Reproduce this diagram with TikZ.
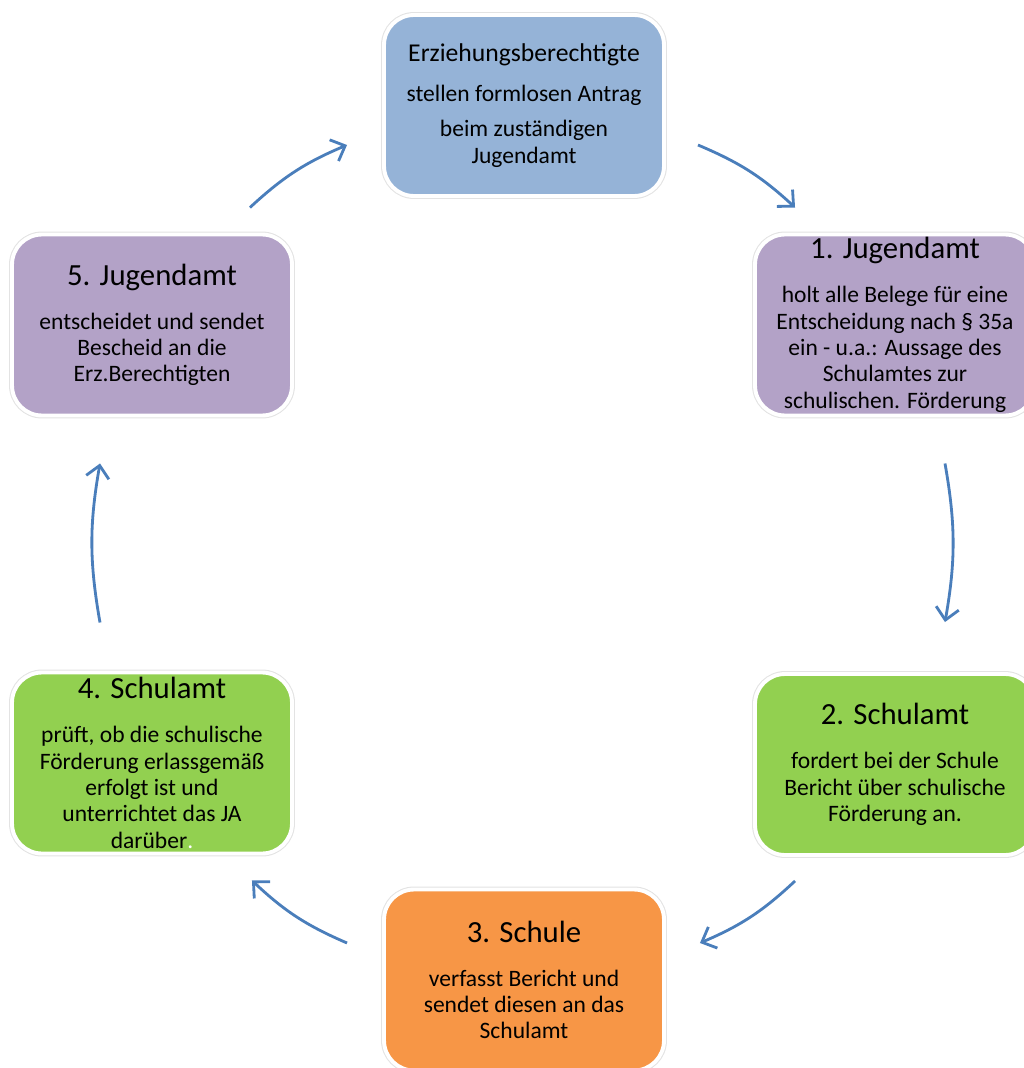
\documentclass[tikz,border=0pt]{standalone}
\usepackage{fontspec}
\setmainfont{Carlito}
\usepackage{xcolor}
\usetikzlibrary{arrows.meta, positioning}
\definecolor{antragblue}{HTML}{95B3D7}
\definecolor{jugendlila}{HTML}{B3A2C7}
\definecolor{schulgruen}{HTML}{92D050}
\definecolor{schulorange}{HTML}{F79646}
\definecolor{flowblue}{HTML}{4A7EBB}
\newcommand{\headfont}{\fontsize{17.5}{20}\selectfont}
\tikzset{
    stage/.style={
        rectangle, 
        rounded corners=0.6cm, 
        draw=white, 
        line width=2.2pt, 
        preaction={draw=black!11, line width=3.4pt},
        minimum width=5.6cm, 
        minimum height=3.62cm, 
        align=center, 
        inner sep=0pt, 
        outer sep=0pt,
        font=\fontsize{13.4}{15}\selectfont
    },
    antrag/.style={stage, fill=antragblue},
    jamt/.style={stage, fill=jugendlila},
    samt/.style={stage, fill=schulgruen},
    schule/.style={stage, fill=schulorange},
    flow/.style={-{Straight Barb[length=2.4mm, width=4.6mm]}, line width=1.6pt, draw=flowblue, bend left=10}
}

\begin{document}
\begin{tikzpicture}[x=0.02cm, y=-0.02cm]
    \useasboundingbox (0, 0) rectangle (1024, 1068);

    % Stations of the cycle
    \node[antrag] (antrag) at (524, 105.5) {{\fontsize{14.6}{15}\selectfont Erziehungsberechtigte}\\[8pt]
        stellen formlosen Antrag\\[5pt] beim zuständigen\\ Jugendamt};
    \node[jamt] (ja1) at (895, 325) {{\headfont 1. Jugendamt}\\[10pt]
        holt alle Belege für eine\\ Entscheidung nach § 35a\\ ein - u.a.: Aussage des\\
        Schulamtes zur\\ schulischen. Förderung};
    \node[samt] (sa2) at (895, 764.5) {{\headfont 2. Schulamt}\\[10pt]
        fordert bei der Schule\\ Bericht über schulische\\ Förderung an.};
    \node[schule] (schule3) at (524, 980) {{\headfont 3. Schule}\\[10pt]
        verfasst Bericht und\\ sendet diesen an das\\ Schulamt};
    \node[samt] (sa4) at (152, 763) {{\headfont 4. Schulamt}\\[10pt]
        prüft, ob die schulische\\ Förderung erlassgemäß\\ erfolgt ist und\\
        unterrichtet das JA\\ darüber{\color{white}.}};
    \node[jamt] (ja5) at (152, 325) {{\headfont 5. Jugendamt}\\[10pt]
        entscheidet und sendet\\ Bescheid an die\\ Erz.Berechtigten};

    % Arrows (clockwise)
    \draw[flow] ([shift={(34, 39.5)}]antrag.east) to ([shift={(40, -27)}]ja1.north west);
    \draw[flow] ([shift={(50, 48)}]ja1.south) to ([shift={(50, -52)}]sa2.north);
    \draw[flow] ([shift={(40, 26)}]sa2.south west) to ([shift={(36, -37)}]schule3.east);
    \draw[flow] ([shift={(-37, -37)}]schule3.west) to ([shift={(-40, 27)}]sa4.south east);
    \draw[flow] ([shift={(-52, -50)}]sa4.north) to ([shift={(-52, 48)}]ja5.south);
    \draw[flow] ([shift={(-42, -27)}]ja5.north east) to ([shift={(-37, 39.5)}]antrag.west);
\end{tikzpicture}
\end{document}
